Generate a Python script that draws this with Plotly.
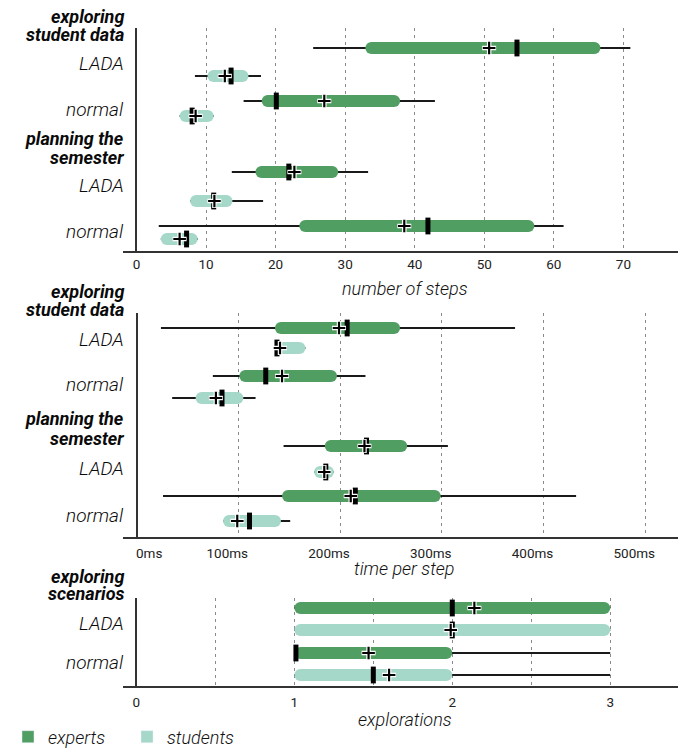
import plotly.graph_objects as go

# ---------------- data ----------------
groups = ["experts", "students"]
conditions = ["LADA", "normal"]
tasks_steps = ["exploring<br>student data", "planning the<br>semester"]
task_expl = "exploring<br>scenarios"

# row order: task1 LADA exp, LADA stu, normal exp, normal stu, task2 ...
steps_whisk_lo = [25.4, 8.4, 15.4, 6.2, 13.7, 7.7, 3.2, 3.5]
steps_q1 = [32.9, 10.2, 18.0, 6.2, 17.1, 7.7, 23.4, 3.5]
steps_median = [54.7, 13.6, 20.1, 8.0, 21.9, 11.1, 41.9, 7.2]
steps_mean = [50.7, 12.7, 27.0, 8.5, 22.7, 11.2, 38.5, 6.2]
steps_q3 = [66.7, 16.1, 37.9, 11.1, 29.0, 13.8, 57.2, 8.8]
steps_whisk_hi = [71.0, 17.9, 42.9, 11.1, 33.3, 18.2, 61.4, 8.8]

time_whisk_lo = [24, 135, 75, 35, 144.5, 174.5, 26, 85]
time_q1 = [136, 135, 101, 58, 185, 174.5, 143, 85]
time_median = [207, 138, 127, 84, 226, 186, 215, 111]
time_mean = [199, 141, 143, 78, 224, 184.5, 210.5, 99]
time_q3 = [259, 166, 197, 105, 266, 194, 299, 142]
time_whisk_hi = [372, 166, 225, 117, 306, 194, 432, 151]

expl_whisk_lo = [1, 1, 1, 1]
expl_q1 = [1, 1, 1, 1]
expl_median = [2.0, 2.0, 1.01, 1.5]
expl_mean = [2.14, 1.99, 1.47, 1.60]
expl_q3 = [3, 3, 2, 2]
expl_whisk_hi = [3, 3, 3, 3]

steps_ticks = [0, 10, 20, 30, 40, 50, 60, 70]
time_ticks = [100, 200, 300, 400, 500]
time_zero_label = "0ms"
expl_ticks = [0, 1, 2, 3]

# ---------------- layout constants (screen-pixel positions) ----------------
OFF = 8                      # page body margin
FW, FH = 686 - OFF, 751 - OFF
L = 123 - OFF                # left margin of plot area (figure px)
PW = FW - L

row_group = ["experts", "students"] * 4
top_rows = [48, 76, 101, 116, 172, 201, 226, 239]
mid_rows = [328, 348, 376, 398, 446, 472, 496, 521]
bot_rows = [608, 630, 653, 675]
panels = [(28, 251), (313, 537), (598, 686)]
xranges = [(-1.94, 79.0), (-13.3, 540), (-0.085, 3.48)]

COLORS = {"experts": "#519e63", "students": "#a6d8ca"}
FONT = "Roboto"
BAR_H = 12


def py(p):
    return 1 - (p - OFF) / FH


def pxp(p):
    return (p - OFF - L) / PW


fig = go.Figure()


def add_panel(ax, rows, grp, lo, q1, med, mean, q3, hi):
    xa = "x" if ax == 1 else f"x{ax}"
    ya = "y" if ax == 1 else f"y{ax}"
    xr = xranges[ax - 1]
    r = (BAR_H / 2) * (xr[1] - xr[0]) / PW   # cap radius in data units
    # whiskers
    wx, wy = [], []
    for rr, a, b in zip(rows, lo, hi):
        wx += [a, b, None]
        wy += [rr, rr, None]
    fig.add_trace(go.Scatter(x=wx, y=wy, mode="lines", xaxis=xa, yaxis=ya,
                             line=dict(color="#1a1a1a", width=1.8),
                             showlegend=False, hoverinfo="skip"))
    # boxes as capsules (thick line + round caps)
    for g in groups:
        bx, by = [], []
        for i, gg in enumerate(grp):
            if gg != g:
                continue
            bx += [q1[i] + r, q3[i] - r, None]
            by += [rows[i], rows[i], None]
        fig.add_trace(go.Scatter(x=bx, y=by, mode="lines+markers", xaxis=xa, yaxis=ya,
                                 line=dict(color=COLORS[g], width=BAR_H),
                                 marker=dict(symbol="circle", size=BAR_H, color=COLORS[g],
                                             line=dict(width=0)),
                                 showlegend=False, hoverinfo="skip"))
    # medians
    fig.add_trace(go.Scatter(x=med, y=rows, mode="markers", xaxis=xa, yaxis=ya,
                             marker=dict(symbol="line-ns", size=BAR_H,
                                         line=dict(color="black", width=5)),
                             showlegend=False, hoverinfo="skip"))
    # means (white halo + black cross)
    fig.add_trace(go.Scatter(x=mean, y=rows, mode="markers", xaxis=xa, yaxis=ya,
                             marker=dict(symbol="cross-thin", size=10,
                                         line=dict(color="white", width=4.5)),
                             showlegend=False, hoverinfo="skip"))
    fig.add_trace(go.Scatter(x=mean, y=rows, mode="markers", xaxis=xa, yaxis=ya,
                             marker=dict(symbol="cross-thin", size=9,
                                         line=dict(color="black", width=2.2)),
                             showlegend=False, hoverinfo="skip"))


add_panel(1, top_rows, row_group, steps_whisk_lo, steps_q1, steps_median, steps_mean,
          steps_q3, steps_whisk_hi)
add_panel(2, mid_rows, row_group, time_whisk_lo, time_q1, time_median, time_mean,
          time_q3, time_whisk_hi)
add_panel(3, bot_rows, ["experts", "students"] * 2, expl_whisk_lo, expl_q1, expl_median,
          expl_mean, expl_q3, expl_whisk_hi)

# legend entries
for g in groups:
    fig.add_trace(go.Bar(x=[None], y=[None], name=g, marker=dict(color=COLORS[g]),
                         showlegend=True, hoverinfo="skip"))

grid = dict(showgrid=True, gridcolor="#8a8a8a", gridwidth=1, griddash="3px,4px",
            zeroline=True, zerolinecolor="#333", zerolinewidth=1.5,
            showline=True, linecolor="#333", linewidth=2,
            ticks="", tickfont=dict(family=FONT, size=13.5, color="#222"),
            fixedrange=True)

axes = {}
for k, ((top, bot), xr) in enumerate(zip(panels, xranges), start=1):
    xa = "xaxis" if k == 1 else f"xaxis{k}"
    ya = "yaxis" if k == 1 else f"yaxis{k}"
    yname = "y" if k == 1 else f"y{k}"
    xname = "x" if k == 1 else f"x{k}"
    axes[xa] = dict(grid, range=list(xr), anchor=yname, domain=[0, 1])
    axes[ya] = dict(range=[bot, top], domain=[py(bot), py(top)], anchor=xname,
                    showgrid=False, zeroline=False, showticklabels=False,
                    showline=False, fixedrange=True)

axes["xaxis"].update(tickvals=steps_ticks, ticktext=[str(t) for t in steps_ticks],
                     ticklabelstandoff=0)
axes["xaxis2"].update(tickvals=time_ticks, ticktext=[f"{t}ms" for t in time_ticks],
                      ticklabelstandoff=3, ticklabelshift=-11)
axes["xaxis3"].update(tickvals=expl_ticks, ticktext=[str(t) for t in expl_ticks],
                      ticklabelstandoff=3,
                      minor=dict(dtick=0.5, showgrid=True, gridcolor="#8a8a8a",
                                 griddash="3px,4px", gridwidth=1))

fig.update_layout(**axes)

ann = []
LBL_X = pxp(126)


def label(text, ypx, size=19, weight=300):
    ann.append(dict(text=text, xref="paper", yref="paper", x=LBL_X, y=py(ypx),
                    xanchor="right", yanchor="middle", showarrow=False,
                    font=dict(family=FONT, size=size, color="#0a0a0a", style="italic",
                              weight=weight)))


# headings and condition labels
heading_px = [(17, 34), (138, 157), (291, 310), (419, 438), (576, 593)]
for t, (a, b) in zip(tasks_steps * 2 + [task_expl], heading_px):
    l1, l2 = t.split("<br>")
    label(l1, a, 18, 700)
    label(l2, b, 18, 700)
for ypx, c in zip([63, 110, 185, 232, 340, 385, 468, 515, 623, 662],
                  conditions * 5):
    label(c, ypx)

# zero label for time axis (left-aligned at the axis origin)
ann.append(dict(text=time_zero_label, xref="x2", yref="paper", x=0, y=py(553),
                xanchor="left", yanchor="middle", showarrow=False, xshift=-3,
                font=dict(family=FONT, size=13.5, color="#222")))

# axis titles
for txt, ypx in [("number of steps", 288), ("time per step", 568), ("explorations", 719)]:
    ann.append(dict(text=txt, xref="paper", yref="paper", x=0.5, y=py(ypx),
                    xanchor="center", yanchor="middle", showarrow=False,
                    font=dict(family=FONT, size=18, color="#111", style="italic",
                              weight=300)))

fig.update_layout(
    width=FW, height=FH,
    margin=dict(l=L, r=0, t=0, b=0, autoexpand=False),
    plot_bgcolor="white", paper_bgcolor="white",
    barmode="overlay",
    annotations=ann,
    showlegend=True,
    legend=dict(orientation="h", x=-L / PW, y=py(737), yanchor="middle",
                xanchor="left", font=dict(family=FONT, size=18, color="#111",
                                          style="italic", weight=300),
                itemwidth=30, entrywidth=74, bgcolor="rgba(0,0,0,0)"),
)

fig.write_html("out.html")
